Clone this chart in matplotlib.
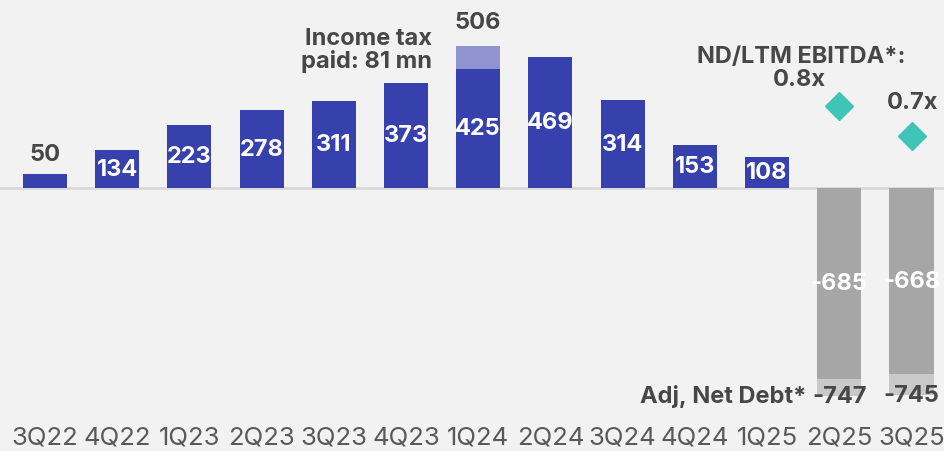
import matplotlib.pyplot as plt
import numpy as np

quarters = ["3Q22", "4Q22", "1Q23", "2Q23", "3Q23", "4Q23", "1Q24",
            "2Q24", "3Q24", "4Q24", "1Q25", "2Q25", "3Q25"]
cash_flow = [50, 134, 223, 278, 311, 373, 425, 469, 314, 153, 108, None, None]
tax_paid = [None, None, None, None, None, None, 81, None, None, None, None, None, None]
net_debt_core = [None] * 11 + [-685, -668]
net_debt_adj = [None] * 11 + [-747, -745]
leverage = [None] * 11 + [0.8, 0.7]

BG = "#f2f2f2"
PURPLE = "#3641ad"
LIGHT_PURPLE = "#8f93cf"
GRAY = "#a6a6a6"
LIGHT_GRAY = "#c9c9c9"
TEAL = "#3fc4b8"
DARK = "#474747"

plt.rcParams["font.family"] = ["Inter", "DejaVu Sans"]
FS = 17
WT = "bold"
k = 0.279  # pixels per unit

fig = plt.figure(figsize=(9.44, 4.52), dpi=100, facecolor=BG)
ax = fig.add_axes([0, 32 / 452, 1, 420 / 452])
ax.set_facecolor(BG)

x = np.arange(len(quarters))
w = 0.61

# positive bars (cash flow) with the tax add-on stacked on top
for i, v in enumerate(cash_flow):
    if v is None:
        continue
    ax.bar(x[i], v, width=w, color=PURPLE, zorder=2)
    if tax_paid[i] is not None:
        ax.bar(x[i], tax_paid[i], bottom=v, width=w, color=LIGHT_PURPLE, zorder=2)
        total = v + tax_paid[i]
        ax.text(x[i], total + 24 / k, f"{total}", ha="center", va="center",
                fontsize=FS, fontweight=WT, color=DARK)
    if v < 80:
        ax.text(x[i], v + 20 / k, f"{v}", ha="center", va="center",
                fontsize=FS, fontweight=WT, color=DARK)
    else:
        ax.text(x[i], v / 2, f"{v}", ha="center", va="center",
                fontsize=FS, fontweight=WT, color="white", zorder=3)

# negative bars (net debt)
for i, (core, adj) in enumerate(zip(net_debt_core, net_debt_adj)):
    if core is None:
        continue
    ax.bar(x[i], core, width=w, color=GRAY, zorder=2)
    ax.bar(x[i], adj - core, bottom=core, width=w, color=LIGHT_GRAY, zorder=2)
    ax.text(x[i], core / 2, f"{core}", ha="center", va="center",
            fontsize=FS, fontweight=WT, color="white", zorder=3)
    ax.text(x[i], adj, f"{adj}", ha="center", va="center",
            fontsize=FS, fontweight=WT, color=DARK, zorder=3)

ax.text(x[11] - 0.45, net_debt_adj[11], "Adj, Net Debt*", ha="right", va="center",
        fontsize=FS, fontweight=WT, color=DARK, zorder=3)

ax.text(x[6] - 0.64, (188.5 - 50) / k, "Income tax\npaid: 81 mn", ha="right", va="center",
        fontsize=FS, fontweight=WT, color=DARK, linespacing=1.0)

ax.axhline(0, color="#d9d9d9", linewidth=2, zorder=1)

ax.set_xlim(-0.623, 12.45)
ax.set_ylim(-(420 - 188.5) / k, 188.5 / k)
ax.set_xticks(x)
ax.set_xticklabels(quarters, fontsize=18.5, color="#595959")
ax.tick_params(axis="x", length=0, pad=5)
ax.set_yticks([])
for s in ax.spines.values():
    s.set_visible(False)

# leverage ratio on its own scale
ax2 = ax.twinx()
ax2.set_ylim(0.8 - 313 / 300, 0.8 + 107 / 300)
for i, v in enumerate(leverage):
    if v is None:
        continue
    ax2.plot(x[i], v, marker="D", markersize=14.5, color=TEAL, zorder=4)
    if i == 11:
        ax2.text(x[i] - 0.55, v + 0.09, f"{v}x", ha="center", va="center",
                 fontsize=FS, fontweight=WT, color=DARK)
        ax2.text(x[i] - 0.53, v + 0.167, "ND/LTM EBITDA*:", ha="center", va="center",
                 fontsize=FS, fontweight=WT, color=DARK)
    else:
        ax2.text(x[i] + 0.02, v + 0.113, f"{v}x", ha="center", va="center",
                 fontsize=FS, fontweight=WT, color=DARK)
ax2.set_yticks([])
for s in ax2.spines.values():
    s.set_visible(False)

fig.savefig("out.png", dpi=100, facecolor=BG)
